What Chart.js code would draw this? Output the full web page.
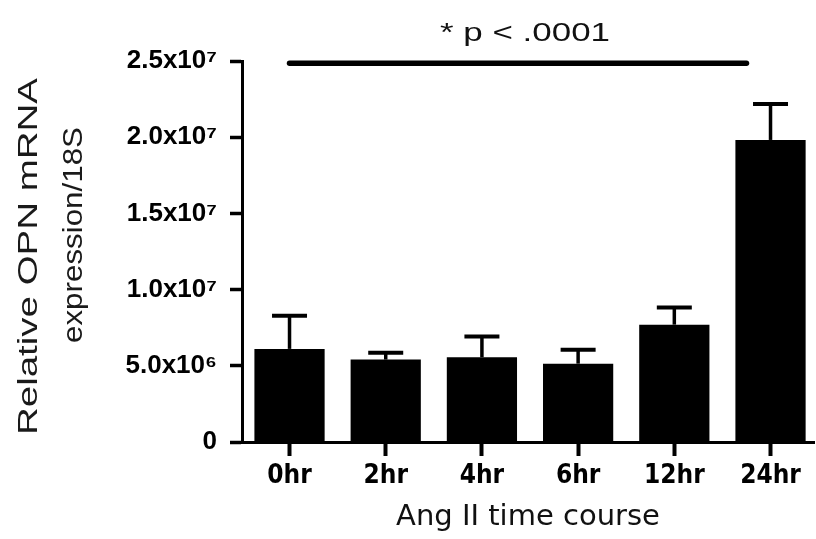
<!DOCTYPE html>
<html>
<head>
<meta charset="utf-8">
<script src="https://cdn.jsdelivr.net/npm/chart.js@4/dist/chart.umd.min.js"></script>
<style>
  html, body { margin: 0; padding: 0; background: #ffffff; }
  #wrap { width: 816px; height: 539px; position: relative; }
</style>
</head>
<body>
<div id="wrap"><canvas id="c" width="816" height="539"></canvas></div>
<script>
// ---- data ----
const categories = ['0hr', '2hr', '4hr', '6hr', '12hr', '24hr'];
const means = [6.11e6, 5.41e6, 5.56e6, 5.14e6, 7.70e6, 19.82e6];
const errorsUp = [2.18e6, 0.44e6, 1.37e6, 0.92e6, 1.13e6, 2.36e6];
const yTickValues = [0, 5e6, 1e7, 1.5e7, 2e7, 2.5e7];
const yTickLabels = ['0', '5.0x10\u2076', '1.0x10\u2077', '1.5x10\u2077', '2.0x10\u2077', '2.5x10\u2077'];
const sigLevel = 2.485e7;
const sigFrom = 0;
const sigTo = 4.75;
const sigText = '* p < .0001';
const yTitleLines = ['Relative OPN mRNA', 'expression/18S'];
const xTitle = 'Ang II time course';

const barPoints = means.map((v, i) => ({ x: i, y: v }));
const sigPoints = [{ x: sigFrom, y: sigLevel }, { x: sigTo, y: sigLevel }];

function drawStretched(ctx, text, cx, cy, length, rotated) {
  ctx.save();
  ctx.translate(cx, cy);
  if (rotated) ctx.rotate(-Math.PI / 2);
  const w = ctx.measureText(text).width;
  ctx.scale(length / w, 1);
  ctx.textAlign = 'center';
  ctx.textBaseline = 'alphabetic';
  ctx.fillText(text, 0, 0);
  ctx.restore();
}

const errorBarPlugin = {
  id: 'errorBars',
  afterDatasetsDraw(chart) {
    const ctx = chart.ctx;
    const yScale = chart.scales.y;
    const meta = chart.getDatasetMeta(0);
    ctx.save();
    ctx.strokeStyle = '#000';
    meta.data.forEach((bar, i) => {
      const x = bar.x;
      const yTop = bar.y;
      const yErr = yScale.getPixelForValue(means[i] + errorsUp[i]);
      ctx.lineWidth = 3.5;
      ctx.beginPath();
      ctx.moveTo(x, yTop);
      ctx.lineTo(x, yErr);
      ctx.stroke();
      ctx.lineWidth = 4;
      ctx.beginPath();
      ctx.moveTo(x - 17.5, yErr);
      ctx.lineTo(x + 17.5, yErr);
      ctx.stroke();
    });
    ctx.restore();
  }
};

const textPlugin = {
  id: 'extraText',
  afterDraw(chart) {
    const ctx = chart.ctx;
    const xs = chart.scales.x;
    ctx.save();
    ctx.fillStyle = '#111';
    ctx.font = '26px "Liberation Sans", Arial, sans-serif';
    const midX = (xs.getPixelForValue(sigFrom) + xs.getPixelForValue(sigTo)) / 2;
    drawStretched(ctx, sigText, midX + 7, 41, 170, false);
    ctx.fillStyle = '#1a1a1a';
    ctx.font = '27px "Liberation Sans", Arial, sans-serif';
    drawStretched(ctx, yTitleLines[0], 37, 256.5, 357, true);
    drawStretched(ctx, yTitleLines[1], 82, 235, 216, true);
    ctx.restore();
  }
};

new Chart(document.getElementById('c'), {
  data: {
    datasets: [
      {
        type: 'bar',
        data: barPoints,
        backgroundColor: '#000000',
        borderWidth: 0,
        categoryPercentage: 1.0,
        barPercentage: 0.73,
        order: 2
      },
      {
        type: 'line',
        data: sigPoints,
        borderColor: '#000000',
        borderWidth: 5.5,
        borderCapStyle: 'round',
        pointRadius: 0,
        fill: false,
        clip: false,
        order: 1
      }
    ]
  },
  options: {
    responsive: false,
    animation: false,
    devicePixelRatio: 1,
    layout: { padding: { top: 61, right: 2, left: 0, bottom: 0 } },
    plugins: {
      legend: { display: false },
      tooltip: { enabled: false },
      title: { display: false }
    },
    scales: {
      x: {
        type: 'linear',
        position: 'bottom',
        offset: false,
        min: -0.494,
        max: 5.452,
        afterBuildTicks(scale) {
          scale.ticks = categories.map((c, i) => ({ value: i }));
        },
        afterFit(scale) { scale.height = 97; },
        grid: {
          display: true,
          offset: false,
          drawOnChartArea: false,
          drawTicks: true,
          tickLength: 14,
          tickWidth: 4,
          tickColor: '#000'
        },
        border: { display: true, color: '#000', width: 3 },
        ticks: {
          color: '#000',
          padding: 5,
          maxRotation: 0,
          autoSkip: false,
          font: { family: "'DejaVu Sans Condensed', 'DejaVu Sans', sans-serif", size: 26, weight: 'bold' },
          callback: (v) => categories[v] !== undefined ? categories[v] : ''
        },
        title: {
          display: true,
          text: xTitle,
          color: '#111',
          font: { family: "'DejaVu Sans', sans-serif", size: 29, weight: 'normal' },
          padding: { top: 0, bottom: 4 }
        }
      },
      y: {
        type: 'linear',
        position: 'left',
        min: 0,
        max: 2.5e7,
        afterBuildTicks(scale) {
          scale.ticks = yTickValues.map(v => ({ value: v }));
        },
        afterFit(scale) { scale.width = 242; },
        grid: {
          drawOnChartArea: false,
          drawTicks: true,
          tickLength: 12,
          tickWidth: 3.5,
          tickColor: '#000'
        },
        border: { display: true, color: '#000', width: 3 },
        ticks: {
          color: '#000',
          padding: 13,
          font: { family: "'Liberation Sans', Arial, sans-serif", size: 26, weight: 'bold' },
          callback: (v) => {
            const idx = yTickValues.indexOf(v);
            return idx >= 0 ? yTickLabels[idx] : '';
          }
        }
      }
    }
  },
  plugins: [errorBarPlugin, textPlugin]
});
</script>
</body>
</html>
